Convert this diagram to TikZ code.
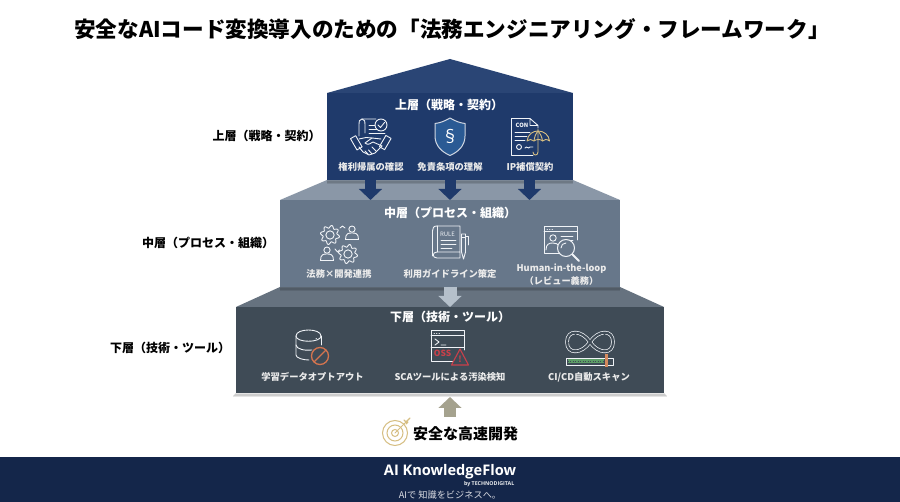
\documentclass[tikz,border=0pt]{standalone}
\usepackage{fontspec}
\setmainfont{Noto Sans CJK JP}
\newfontfamily\brandfont[BoldFont={Open Sans Bold}]{Open Sans}
\usetikzlibrary{arrows.meta,calc,shapes.geometric}
\definecolor{navybox}{HTML}{1F3A6B}
\definecolor{navyroof}{HTML}{2A4575}
\definecolor{midbox}{HTML}{67778A}
\definecolor{midtop}{HTML}{8A97A7}
\definecolor{lowbox}{HTML}{3F4B56}
\definecolor{lowtop}{HTML}{66727F}
\definecolor{footbg}{HTML}{14264A}
\definecolor{linew}{HTML}{F0F3F7}
\definecolor{gold}{HTML}{D6BE82}
\definecolor{redw}{HTML}{C8404A}
\definecolor{orangew}{HTML}{D4744F}
\definecolor{greenw}{HTML}{5E9E68}
\definecolor{lightarrow}{HTML}{B5C0CB}
\definecolor{tanarrow}{HTML}{A5A28E}
\definecolor{shieldfill}{HTML}{2A5A94}
\tikzset{
 x=1pt,y=-1pt,
 tierbox/.style={inner sep=0pt,outer sep=0pt,minimum width=#1},
 tiertitle/.style={font=\bfseries\fontsize{12}{13}\selectfont,text=white,inner sep=0pt},
 itemlabel/.style={font=\bfseries\fontsize{9.3}{13}\selectfont,text=white!92!black,inner sep=0pt,align=center},
 sidelabel/.style={font=\bfseries\fontsize{12}{13}\selectfont,text=black,inner sep=0pt},
 blockarrow/.style={line width=#1,-{Triangle[length=11pt,width=22.5pt]}},
 ic/.style={draw=linew,line width=.9pt,line join=round,line cap=round},
 shadowline/.style={line width=1.5pt,black,opacity=.10},
}
\newcommand{\gearicon}[3]{%
 \draw[ic] plot[smooth cycle,domain=0:352.8,samples=50] ({#1+(#3+1.4*sin(8*\x))*cos(\x)},{#2+(#3+1.4*sin(8*\x))*sin(\x)});
 \draw[ic] (#1,#2) circle (#3*.5);}
\newcommand{\personicon}[3]{%
 \draw[ic] (#1,#2-#3*.6) circle (#3*.48);
 \draw[ic] (#1-#3,#2+#3) .. controls (#1-#3,#2) and (#1-#3*.5,#2) .. (#1,#2) .. controls (#1+#3*.5,#2) and (#1+#3,#2) .. (#1+#3,#2+#3) -- cycle;}
\begin{document}
\begin{tikzpicture}
\useasboundingbox (0,0) rectangle (900,502);
\fill[white] (0,0) rectangle (900,502);

\node[inner sep=0pt,font=\bfseries\fontsize{21.6}{25}\selectfont] (title) at (452,29) {安全なAIコード変換導入のための「法務エンジニアリング・フレームワーク」};

% tiers, from bottom to top
\foreach \k in {1,2,3}{\draw[shadowline] (236-\k,393+\k) -- (664+\k,393+\k);}
\fill[lowtop] (280,287) -- (620,287) -- (664,307) -- (236,307) -- cycle;
\node[tierbox=428pt,minimum height=86pt,fill=lowbox] (low) at (450,350) {};
\foreach \k in {1,2,3}{\draw[shadowline] (280,287+\k) -- (620,287+\k);}
\fill[midtop] (327,180) -- (573,180) -- (620,200) -- (280,200) -- cycle;
\node[tierbox=340pt,minimum height=87pt,fill=midbox] (mid) at (450,243.5) {};
\foreach \k in {1,2,3}{\draw[shadowline] (327,180+\k) -- (573,180+\k);}
\fill[navyroof] (450,59) -- (573,93) -- (327,93) -- cycle;
\node[tierbox=246pt,minimum height=87pt,fill=navybox] (top) at (450,136.5) {};

% connectors
\draw[blockarrow=11pt,navybox] ([xshift=-79.5pt]top.south) -- ([xshift=-79.5pt]mid.north);
\draw[blockarrow=11pt,navybox] (top.south) -- (mid.north);
\draw[blockarrow=11pt,navybox] ([xshift=79.5pt]top.south) -- ([xshift=79.5pt]mid.north);
\draw[blockarrow=13pt,lightarrow] (mid.south) -- (low.north);
\coordinate (goalin) at (450,417);
\draw[blockarrow=12pt,tanarrow] (goalin) -- ([yshift=-4pt]low.south);

% side labels
\node[sidelabel] (s1) at (266.5,136) {上層（戦略・契約）};
\node[sidelabel] (s2) at (208,243) {中層（プロセス・組織）};
\node[sidelabel] (s3) at (170,348) {下層（技術・ツール）};

% titles
\node[tiertitle] (t1) at (449,105) {上層（戦略・契約）};
\node[tiertitle] (t2) at (450,213) {中層（プロセス・組織）};
\node[tiertitle] (t3) at (450,317) {下層（技術・ツール）};

% item labels
\node[itemlabel] (i1) at (371,166.5) {権利帰属の確認};
\node[itemlabel] (i2) at (450,166.5) {免責条項の理解};
\node[itemlabel] (i3) at (530,166.5) {IP補償契約};
\node[itemlabel] (i4) at (339,274) {法務×開発連携};
\node[itemlabel] (i5) at (450,274) {利用ガイドライン策定};
\node[itemlabel,font=\bfseries\fontsize{9.2}{13}\selectfont] (i6) at (561.5,274.5) {Human-in-the-loop\\（レビュー義務）};
\node[itemlabel] (i7) at (312.5,377) {学習データオプトアウト};
\node[itemlabel] (i8) at (450,377) {SCAツールによる汚染検知};
\node[itemlabel] (i9) at (589,377) {CI/CD自動スキャン};

% icon: contract + handshake
\draw[ic] (376,119) -- (362,119) .. controls (359,119) and (359,122) .. (359,124) -- (359,136);
\draw[ic] (362,119) .. controls (365,119) and (365,122) .. (365,124) -- (365,133);
\draw[ic] (369,125) -- (375,125) (369,129) -- (380,129) (369,133) -- (385,133);
\draw[ic,fill=navybox] (381,125) circle (6);
\draw[ic] (378,125) -- (380.5,127.5) -- (384.5,122.5);
\draw[ic,rotate around={30:(357,143)}] (353.5,136) rectangle (359.5,149);
\draw[ic,rotate around={-30:(385,143)}] (382,136) rectangle (388,149);
\draw[ic] (359,139) -- (366,137.5) -- (372,138) -- (381,139) (382,146) -- (375,153) -- (369,155) -- (363,152) -- (359,147);
\draw[ic] (372,138) -- (365,143) .. controls (368,146) and (371,143) .. (373,142) -- (382,146);
\draw[ic] (368,154) -- (365,151) (372,154) -- (368.5,150) (376,151) -- (372,147);

% icon: shield
\draw[draw=linew!85!navybox,line width=1pt,fill=shieldfill,line join=round]
 (450,118) .. controls (455,121) and (460,123) .. (465,123.5) -- (465,136) .. controls (465,146) and (458,152) .. (450,155.5) .. controls (442,152) and (435,146) .. (435,136) -- (435,123.5) .. controls (440,123) and (445,121) .. (450,118) -- cycle;
\node[inner sep=0pt,text=white,font=\fontsize{17}{17}\selectfont] (sec) at (450,136) {§};

% icon: contract + umbrella
\draw[ic] (530,118.5) -- (511.5,118.5) -- (511.5,155) -- (533,155);
\draw[ic] (530,118.5) -- (538,125.5) -- (538,128) (530,118.5) -- (530,125.5) -- (538,125.5);
\node[inner sep=0pt,text=linew,font=\bfseries\fontsize{5.8}{6}\selectfont] (con) at (522,125.5) {CON};
\draw[ic] (515,132) -- (530,132) (515,136) -- (527,136) (515,140) -- (525,140);
\draw[ic] (519,147) circle (2.5);
\draw[ic] (525,148) .. controls (527,145) and (528,150) .. (530,147) .. controls (531,146) and (532,148) .. (533,147);
\draw[draw=gold,line width=.9pt,line join=round,line cap=round,fill=navybox] (527,141) .. controls (528,134) and (533,131) .. (538,131) .. controls (544,131) and (549,135) .. (549.5,141) .. controls (547,139) and (544,139) .. (542.5,141) .. controls (541,139) and (536,139) .. (534,141) .. controls (532,139) and (529,139) .. (527,141) -- cycle;
\draw[draw=gold,line width=.9pt,line cap=round] (538,131) .. controls (535.5,134) and (534.5,137) .. (534,141) (538,131) .. controls (540.5,134) and (542,137) .. (542.5,141);
\draw[draw=gold,line width=.9pt,line cap=round] (538,129) -- (538,152) .. controls (538,156) and (533,156) .. (533,152);

% icon: gears + people
\gearicon{330}{235}{8.3}
\gearicon{348}{254}{8.3}
\personicon{352}{233}{6.5}
\personicon{327}{254}{6.5}
\draw[ic] (340,228) -- (342.5,226) -- (345,228) (335,249) -- (337.5,252) -- (339.5,250);

% icon: rule book
\draw[ic] (437,226) -- (460,226) -- (460,258) -- (437,258) .. controls (432,258) and (432,252) .. (437,252) -- (460,252);
\draw[ic] (437,226) .. controls (433.5,226) and (432.5,228) .. (432.5,231) -- (432.5,256);
\draw[ic] (437,226) -- (437,252);
\node[inner sep=0pt,text=linew,font=\fontsize{6}{6}\selectfont] (rul) at (447.5,234) {RULE};
\draw[ic] (441,240) -- (456,240) (441,244) -- (456,244) (441,248) -- (452,248);
\draw[ic] (461.5,234) -- (461.5,252) -- (463.5,259) -- (465.5,252) -- (465.5,234) -- cycle;
\draw[ic] (461.5,237) -- (465.5,237) (465.5,236) -- (468,236) -- (468,245);

% icon: browser + magnifier
\draw[ic] (559,253) -- (544,253) -- (544,226) -- (577,226) -- (577,240);
\draw[ic] (544,231.5) -- (577,231.5);
\draw[ic] (547,229) -- (547.5,229) (549.5,229) -- (550,229) (552,229) -- (552.5,229);
\draw[ic] (561,236) -- (573,236) (563,240) -- (573,240);
\draw[ic] (553,238) circle (3.2);
\draw[ic] (546,250) .. controls (546,244) and (549,243) .. (553,243) .. controls (556,243) and (558,244) .. (559,246);
\draw[ic,line width=1pt,fill=midbox] (566,248) circle (8.5);
\draw[ic] (566,243) .. controls (563,243) and (561,245) .. (561,248);
\draw[ic,line width=2pt] (572.5,254.5) -- (579,261);

% icon: database + prohibited
\draw[ic] (296,336) .. controls (296,328) and (321,328) .. (321,336) .. controls (321,343) and (296,343) .. (296,336) -- cycle;
\draw[ic] (296,336) -- (296,355) .. controls (296,358) and (303,360) .. (309,360);
\draw[ic] (321,336) -- (321,345);
\draw[ic] (296,345) .. controls (296,349) and (305,351) .. (312,350);
\draw[ic] (316,338) -- (316.5,338);
\draw[draw=orangew,line width=1.3pt] (320,356) circle (8.5) (314,362) -- (326,350);

% icon: terminal + warning
\draw[ic] (459,361) -- (431,361) -- (431,330) -- (464,330) -- (464,350);
\draw[ic] (431,335.5) -- (464,335.5);
\draw[ic] (434,333) -- (434.5,333) (436.5,333) -- (437,333) (439,333) -- (439.5,333);
\draw[ic] (435,339) -- (439,342) -- (435,345) (441,345) -- (446,345);
\draw[ic] (431,347) -- (464,347);
\node[inner sep=0pt,text=redw,font=\bfseries\fontsize{8.5}{8}\selectfont] (oss) at (442.5,353.5) {OSS};
\draw[draw=redw,line width=1.1pt,line join=round,fill=lowbox] (460,349) -- (468.5,365) -- (451.5,365) -- cycle;
\node[inner sep=0pt,text=redw,font=\bfseries\fontsize{8.5}{8}\selectfont] (bang) at (460,359) {!};

% icon: CI/CD loop + progress bar
\draw[line width=3.6pt,linew,line cap=round] (590,342) .. controls (582,330) and (567,329) .. (567,342) .. controls (567,355) and (582,354) .. (590,342) .. controls (598,330) and (613,329) .. (613,342) .. controls (613,355) and (598,354) .. (590,342) -- cycle;
\draw[line width=2.2pt,lowbox,line cap=round] (590,342) .. controls (582,330) and (567,329) .. (567,342) .. controls (567,355) and (582,354) .. (590,342) .. controls (598,330) and (613,329) .. (613,342) .. controls (613,355) and (598,354) .. (590,342) -- cycle;
\draw[lowbox,line width=1pt] (574,333) -- (577,336) (568,343) -- (572,343) (603,333) -- (606,336);
\draw[ic,line width=.8pt] (566,358) rectangle (613,365);
\fill[greenw] (567.5,359.5) rectangle (604,363.5);
\draw[lowbox,line width=.5pt,dash pattern=on 1pt off 1.5pt] (567.5,361.5) -- (604,361.5);
\fill[orangew!70!gold] (605,354) rectangle (607.5,367);

% goal
\draw[draw=gold,line width=1pt] (395,433) circle (12.5);
\draw[draw=gold,line width=1pt] (395,433) circle (8);
\draw[draw=gold,line width=1pt] (395,433) circle (3.5);
\draw[draw=gold,line width=1pt,line cap=round] (395,433) -- (407,421);
\draw[draw=gold,line width=1.2pt,line cap=round] (404,420) -- (406,422) -- (410,418) (406,424) -- (408,422);
\node[inner sep=0pt,font=\bfseries\fontsize{15}{17}\selectfont] (goal) at (465.5,434) {安全な高速開発};

% footer
\fill[footbg] (0,457) rectangle (900,502);
\node[inner sep=0pt,text=white,font=\brandfont\bfseries\fontsize{14.6}{16}\selectfont] (brand) at (450,471.5) {AI KnowledgeFlow};
\node[inner sep=0pt,anchor=east,text=white!92!footbg,font=\brandfont\bfseries\fontsize{5.3}{6}\selectfont] (by) at (514.5,484) {by TECHNODIGITAL};
\node[inner sep=0pt,text=white!85!footbg,font=\fontsize{9.2}{10}\selectfont] (slogan) at (450,495) {AIで 知識をビジネスへ。};
\end{tikzpicture}
\end{document}
